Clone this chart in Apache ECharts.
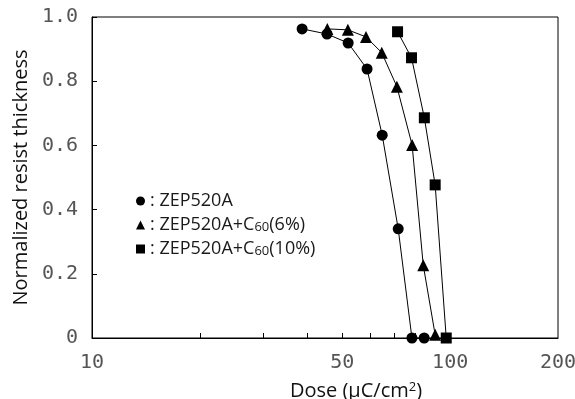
<!DOCTYPE html>
<html>
<head>
<meta charset="utf-8">
<script src="https://cdn.jsdelivr.net/npm/echarts@6/dist/echarts.min.js"></script>
<style>
  html, body { margin: 0; padding: 0; background: #fff; }
  #chart { width: 575px; height: 399px; }
</style>
</head>
<body>
<div id="chart"></div>
<script>
// dose values (µC/cm²) and normalized thickness
const doseZep = [38.6, 45.3, 51.9, 58.6, 64.6, 71.6, 78.2, 84.6];
const thickZep = [0.963, 0.947, 0.919, 0.838, 0.632, 0.340, 0, 0];

const doseC6 = [45.4, 51.8, 58.2, 64.4, 71.0, 78.3, 84.1, 90.8];
const thickC6 = [0.963, 0.96, 0.938, 0.889, 0.783, 0.601, 0.227, 0.01];

const doseC10 = [71.3, 78.0, 84.7, 90.8, 97.5];
const thickC10 = [0.954, 0.873, 0.686, 0.477, 0];

const xLabelValues = [10, 50, 100, 200];
const xMinorTicks = [20, 30, 40, 50, 60, 70, 80, 90];

const seriesNames = ['ZEP520A', 'ZEP520A+C60(6%)', 'ZEP520A+C60(10%)'];

const toPairs = (xs, ys) => xs.map((x, i) => [x, ys[i]]);

const chart = echarts.init(document.getElementById('chart'));

const tickFont = 'DejaVu Sans Mono';
const textFont = 'Open Sans';

const makeSeries = (name, xs, ys, symbol, size) => ({
  name: name,
  type: 'line',
  data: toPairs(xs, ys),
  symbol: symbol,
  symbolSize: size,
  clip: false,
  lineStyle: { color: '#000', width: 1 },
  itemStyle: { color: '#000' }
});

const option = {
  animation: false,
  grid: {
    left: 92, right: 17, top: 17, bottom: 61,
    outerBoundsMode: 'none',
    show: true, borderColor: '#000', borderWidth: 1
  },
  legend: {
    orient: 'vertical',
    left: 136, top: 192,
    padding: 0,
    itemWidth: 9, itemHeight: 9,
    itemGap: 6,
    data: [
      { name: seriesNames[0], icon: 'circle' },
      { name: seriesNames[1], icon: 'triangle' },
      { name: seriesNames[2], icon: 'rect' }
    ],
    formatter: function (name) {
      if (name === seriesNames[0]) return '{t|: ZEP520A}';
      if (name === seriesNames[1]) return '{t|: ZEP520A+C}{s|60}{t|(6%)}';
      return '{t|: ZEP520A+C}{s|60}{t|(10%)}';
    },
    textStyle: {
      rich: {
        t: { fontFamily: textFont, fontSize: 18, lineHeight: 18, color: '#1a1a1a' },
        s: { fontFamily: textFont, fontSize: 13, lineHeight: 11, color: '#1a1a1a', verticalAlign: 'bottom' }
      }
    }
  },
  xAxis: {
    type: 'log',
    logBase: 10,
    min: 10,
    max: 200,
    name: 'Dose (μC/cm{sup|2})',
    nameLocation: 'middle',
    nameGap: 43,
    nameTextStyle: {
      fontFamily: textFont, fontSize: 20, color: '#111',
      padding: [0, 0, 0, 62],
      rich: { sup: { fontFamily: textFont, fontSize: 13, color: '#111', verticalAlign: 'top', padding: [0, 0, 8, 0] } }
    },
    axisLine: { lineStyle: { color: '#000', width: 1 } },
    axisTick: { show: true, inside: true, length: 5, customValues: xMinorTicks, lineStyle: { color: '#000' } },
    minorTick: { show: false },
    axisLabel: {
      customValues: xLabelValues,
      margin: 15,
      fontFamily: tickFont, fontSize: 20, color: '#555'
    },
    splitLine: { show: false }
  },
  yAxis: {
    type: 'value',
    min: 0, max: 1, interval: 0.2,
    name: 'Normalized resist thickness',
    nameLocation: 'middle',
    nameGap: 57,
    nameTextStyle: { fontFamily: textFont, fontSize: 20, color: '#111' },
    axisLine: { show: true, lineStyle: { color: '#000', width: 1 } },
    axisTick: { show: true, inside: true, length: 5, lineStyle: { color: '#000' } },
    axisLabel: {
      margin: 14,
      fontFamily: tickFont, fontSize: 20, color: '#555',
      formatter: v => (v === 0 ? '0' : v.toFixed(1))
    },
    splitLine: { show: false }
  },
  series: [
    makeSeries(seriesNames[0], doseZep, thickZep, 'circle', 11),
    makeSeries(seriesNames[1], doseC6, thickC6, 'triangle', 12),
    makeSeries(seriesNames[2], doseC10, thickC10, 'rect', 11)
  ]
};

chart.setOption(option);
</script>
</body>
</html>
